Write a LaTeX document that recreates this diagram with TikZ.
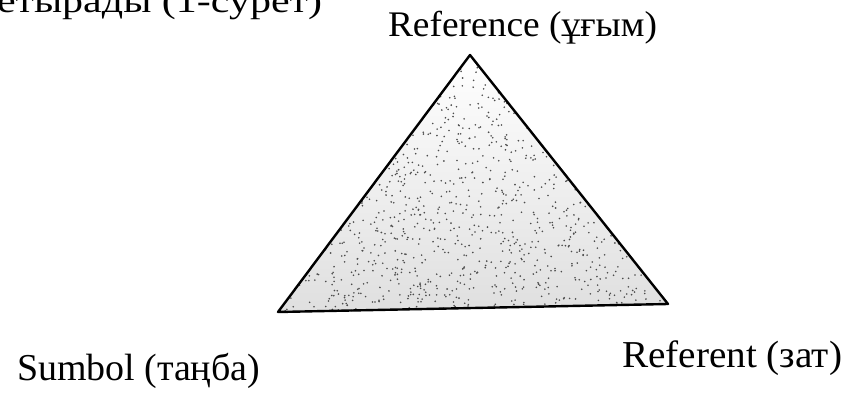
\documentclass[tikz,border=0pt]{standalone}
\usepackage{fontspec}
\setmainfont{Liberation Serif}
\begin{document}
\begin{tikzpicture}[x=1pt,y=-1pt,
  lbl/.style={anchor=base west, inner sep=0pt, outer sep=0pt},
  edge/.style={line width=2.4pt, line join=round}]
\useasboundingbox (0,0) rectangle (847,396);
\clip (0,0) rectangle (847,396);
\coordinate (A) at (470,55);
\coordinate (B) at (278,312);
\coordinate (C) at (668,304);
\shade[top color=white, bottom color=gray!25] (A)--(B)--(C)--cycle;
\pgfmathsetseed{7}
\foreach \i in {1,...,800}{
  \pgfmathsetmacro\u{rnd}
  \pgfmathsetmacro\v{rnd}
  \pgfmathsetmacro\uu{(\u+\v>1) ? 1-\u : \u}
  \pgfmathsetmacro\vv{(\u+\v>1) ? 1-\v : \v}
  \pgfmathsetmacro\px{470+\uu*(-192)+\vv*198}
  \pgfmathsetmacro\py{55+\uu*257+\vv*249}
  \fill[black!70] (\px,\py) circle (0.9);
}
\draw[edge] (A)--(B)--(C)--cycle;
\node[lbl] (top) at (-3,13) {\resizebox{325pt}{\height}{\fontsize{34}{34}\selectfont етырады (1-сурет)}};
\node[lbl] (ref) at (388,37) {\resizebox{269pt}{\height}{\fontsize{36}{36}\selectfont Reference (ұғым)}};
\node[lbl] (sym) at (17,380) {\resizebox{243pt}{\height}{\fontsize{38}{38}\selectfont Sumbol (таңба)}};
\node[lbl] (obj) at (622,367) {\resizebox{220pt}{\height}{\fontsize{38}{38}\selectfont Referent (зат)}};
\end{tikzpicture}
\end{document}
